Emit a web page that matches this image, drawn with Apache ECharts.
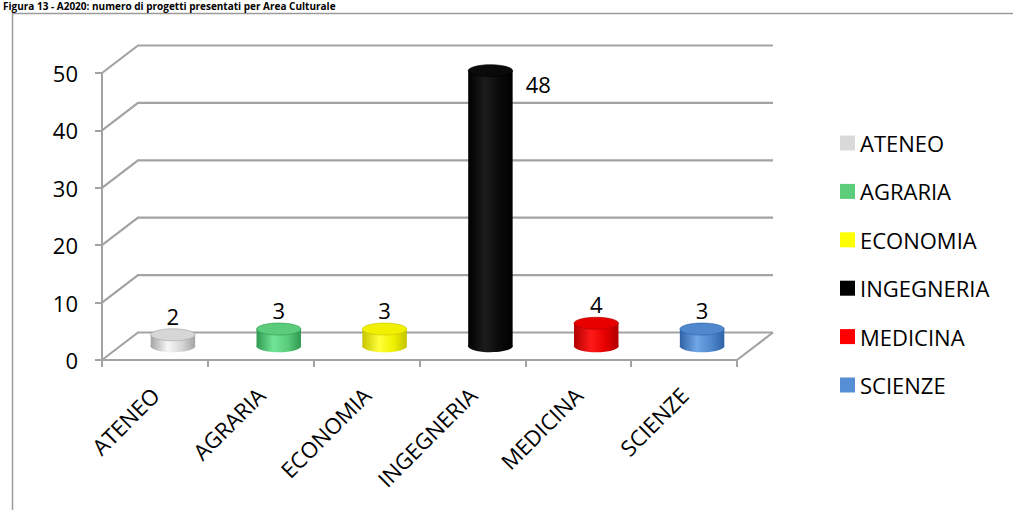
<!DOCTYPE html>
<html>
<head>
<meta charset="utf-8">
<script src="https://cdn.jsdelivr.net/npm/echarts@6/dist/echarts.min.js"></script>
<style>
  html, body { margin: 0; padding: 0; background: #fff; }
  #chart { width: 1013px; height: 510px; }
</style>
</head>
<body>
<div id="chart"></div>
<script>
// Projects submitted per cultural area
const titleText = 'Figura 13 - A2020: numero di progetti presentati per Area Culturale';
const categories = ['ATENEO', 'AGRARIA', 'ECONOMIA', 'INGEGNERIA', 'MEDICINA', 'SCIENZE'];
const projectCounts = [2, 3, 3, 48, 4, 3];
const valueTicks = [0, 10, 20, 30, 40, 50];

// Cylinder shading per area: [edge, highlight, top face, legend swatch]
const palette = [
  ['#a4a4a4', '#f6f6f6', '#d6d6d6', '#d9d9d9'],
  ['#2f9950', '#72e596', '#5acc7c', '#5dcc7b'],
  ['#c4c400', '#ffff3a', '#f0f000', '#ffff00'],
  ['#000000', '#1c1c1c', '#0a0a0a', '#000000'],
  ['#b00000', '#ff1a1a', '#e60000', '#ff0000'],
  ['#2f62a6', '#6fa6e6', '#4f88cc', '#558ed5']
];

// Depth of the pseudo-3D box (back plane offset)
const DX = 36, DY = -27.5;
const FONT = '"Open Sans", "Liberation Sans", sans-serif';
const GRID = '#a3a3a3';

const chart = echarts.init(document.getElementById('chart'), null, { renderer: 'svg' });

function renderWalls(params, api) {
  const cs = params.coordSys;
  const v = api.value(1);
  const y = api.coord([0, v])[1];
  const left = cs.x, right = cs.x + cs.width;
  const children = [{
    type: 'polyline',
    shape: { points: [[left, y], [left + DX, y + DY], [right + DX, y + DY]] },
    style: { stroke: GRID, lineWidth: 2.2, fill: null }
  }];
  if (v === 0) {
    children.push({
      type: 'line',
      shape: { x1: right, y1: y, x2: right + DX, y2: y + DY },
      style: { stroke: GRID, lineWidth: 2.2 }
    });
  }
  return { type: 'group', children };
}

function renderCylinder(params, api) {
  const cs = params.coordSys;
  const i = api.value(0), v = api.value(1);
  const base = api.coord([i, 0]);
  const top = api.coord([i, v]);
  const band = api.size([1, 0])[0];
  const rx = band * 0.21, ry = 6;
  const cx = base[0] + DX / 2;
  const by = base[1] + DY / 2;
  const ty = top[1] + DY / 2;
  const c = palette[i];
  const body = new echarts.graphic.LinearGradient(0, 0, 1, 0, [
    { offset: 0, color: c[0] },
    { offset: 0.38, color: c[1] },
    { offset: 0.7, color: c[2] },
    { offset: 1, color: c[0] }
  ]);
  const labelAbove = ty - 40 > cs.y;
  return {
    type: 'group',
    children: [
      { type: 'ellipse', shape: { cx: cx, cy: by, rx: rx, ry: ry }, style: { fill: body } },
      { type: 'rect', shape: { x: cx - rx, y: ty, width: rx * 2, height: by - ty }, style: { fill: body } },
      { type: 'ellipse', shape: { cx: cx, cy: ty, rx: rx, ry: ry }, style: { fill: c[2], stroke: c[0], lineWidth: 0.6 } },
      {
        type: 'text',
        style: labelAbove ? {
          text: String(v), x: cx, y: ty - 19, align: 'center', verticalAlign: 'middle',
          font: '22px ' + FONT, fill: '#000'
        } : {
          text: String(v), x: cx + rx + 13, y: ty + 13, align: 'left', verticalAlign: 'middle',
          font: '22px ' + FONT, fill: '#000'
        }
      }
    ]
  };
}

const series = [{
  type: 'custom',
  name: 'grid',
  renderItem: renderWalls,
  data: valueTicks.map(t => [0, t]),
  encode: { x: 0, y: 1 },
  silent: true,
  z: 1
}];
categories.forEach((name, i) => {
  series.push({
    type: 'custom',
    name: name,
    renderItem: renderCylinder,
    data: [[i, projectCounts[i]]],
    encode: { x: 0, y: 1 },
    itemStyle: { color: palette[i][3] },
    z: 3
  });
});

chart.setOption({
  backgroundColor: '#ffffff',
  animation: false,
  title: {
    text: titleText,
    left: 3,
    top: 1,
    padding: 0,
    textStyle: { fontFamily: FONT, fontSize: 10, fontWeight: 'bold', color: '#000', lineHeight: 10 }
  },
  graphic: [{
    type: 'rect',
    left: 10, top: 11,
    shape: { width: 1100, height: 600 },
    style: { fill: null, stroke: '#9a9a9a', lineWidth: 1.5 },
    z: 0
  }],
  legend: {
    data: categories,
    orient: 'vertical',
    left: 840,
    top: 131,
    padding: 0,
    icon: 'rect',
    itemWidth: 15,
    itemHeight: 15,
    itemGap: 24.4,
    selectedMode: false,
    textStyle: { fontFamily: FONT, fontSize: 22, color: '#000', lineHeight: 24 }
  },
  grid: { left: 102, right: 276, top: 73, bottom: 150 },
  xAxis: {
    type: 'category',
    data: categories,
    boundaryGap: true,
    axisLine: { lineStyle: { color: GRID, width: 2 } },
    axisTick: { show: true, length: 7, lineStyle: { color: GRID, width: 2 } },
    axisLabel: {
      interval: 0, rotate: 45, margin: 31,
      fontFamily: FONT, fontSize: 22, color: '#000'
    },
    splitLine: { show: false }
  },
  yAxis: {
    type: 'value',
    min: 0, max: 50, interval: 10,
    axisLine: { show: true, lineStyle: { color: GRID, width: 2 } },
    axisTick: { show: true, length: 7, lineStyle: { color: GRID, width: 2 } },
    axisLabel: { margin: 24, fontFamily: FONT, fontSize: 22, color: '#000' },
    splitLine: { show: false }
  },
  series: series
});
</script>
</body>
</html>
